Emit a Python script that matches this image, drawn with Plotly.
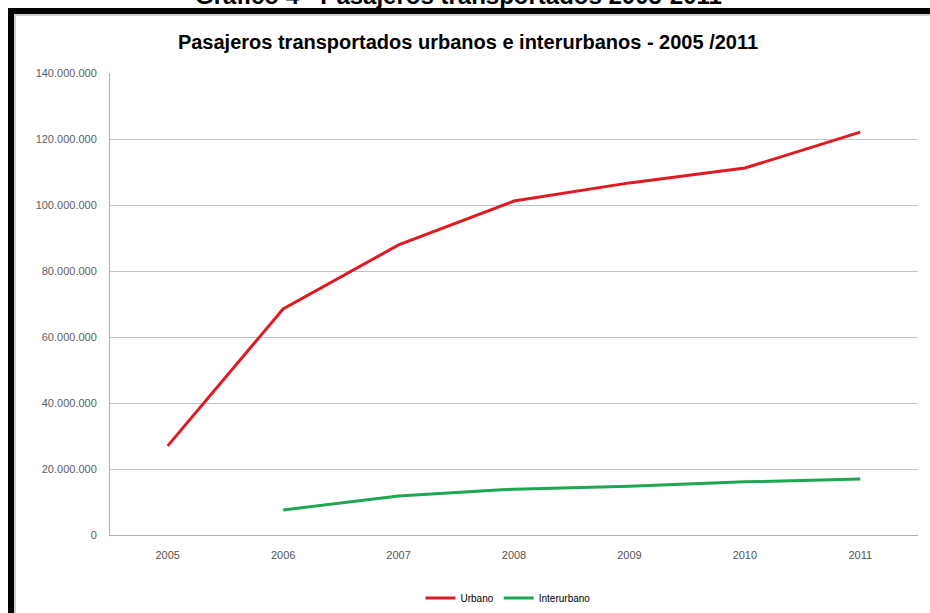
import plotly.graph_objects as go

years = ["2005", "2006", "2007", "2008", "2009", "2010", "2011"]
urbano = [27.0e6, 68.5e6, 87.9e6, 101.2e6, 106.7e6, 111.2e6, 122.1e6]
interurbano = [None, 7.6e6, 11.8e6, 13.9e6, 14.8e6, 16.1e6, 17.0e6]
y_ticks = [0, 20e6, 40e6, 60e6, 80e6, 100e6, 120e6, 140e6]

W, H = 930, 613
L, R, T, B = 110, 12, 73, 78
PW, PH = W - L - R, H - T - B

def px(x):
    return (x - L) / PW

def py(y):
    return 1 - (y - T) / PH

fig = go.Figure()
fig.add_trace(go.Scatter(x=years, y=urbano, name="Urbano", mode="lines",
                         line=dict(color="#de1a22", width=3)))
fig.add_trace(go.Scatter(x=years, y=interurbano, name="Interurbano", mode="lines",
                         line=dict(color="#1fa650", width=3)))

shapes = [
    dict(type="rect", xref="paper", yref="paper", x0=px(8), x1=px(931), y0=py(14), y1=py(8),
         fillcolor="black", line=dict(width=0), layer="above"),
    dict(type="rect", xref="paper", yref="paper", x0=px(8), x1=px(14), y0=py(614), y1=py(8),
         fillcolor="black", line=dict(width=0), layer="above"),
    dict(type="rect", xref="paper", yref="paper", x0=px(14), x1=px(931), y0=py(16), y1=py(14),
         fillcolor="#cfcfcf", line=dict(width=0), layer="above"),
    dict(type="rect", xref="paper", yref="paper", x0=px(14), x1=px(16), y0=py(614), y1=py(14),
         fillcolor="#cfcfcf", line=dict(width=0), layer="above"),
]

fig.update_layout(
    width=W, height=H,
    margin=dict(l=L, r=R, t=T, b=B, autoexpand=False),
    paper_bgcolor="white", plot_bgcolor="white",
    separators=",.",
    title=dict(text="<b>Pasajeros transportados urbanos e interurbanos - 2005 /2011</b>",
               x=468 / W, xanchor="center", y=1 - 42 / H, yanchor="middle",
               font=dict(family="Liberation Sans Narrow, Liberation Sans, Arial", size=20, color="black")),
    xaxis=dict(type="category", range=[-0.5, 6.5], showgrid=False, showline=True,
               linecolor="#b0b0b0", linewidth=1, ticks="",
               tickfont=dict(family="Liberation Sans Narrow, Liberation Sans, Arial", size=11, color="#555555"),
               ticklabelstandoff=10, fixedrange=True),
    yaxis=dict(range=[0, 140e6], tickvals=y_ticks, tickformat=",d", showgrid=True,
               gridcolor="#c4c4c4", gridwidth=1, showline=True, linecolor="#b0b0b0", linewidth=1,
               zeroline=False, ticks="",
               tickfont=dict(family="Liberation Sans, Arial", size=11, color="#606060"),
               ticklabelstandoff=10),
    legend=dict(orientation="h", x=px(508), xanchor="center", y=py(598), yanchor="middle",
                font=dict(family="Liberation Sans Narrow, Liberation Sans, Arial", size=10, color="black"),
                itemwidth=30, bgcolor="rgba(0,0,0,0)"),
    shapes=shapes,
    showlegend=True,
)

fig.add_annotation(text="<b>Gráfico 4 - Pasajeros transportados 2005-2011</b>",
                   xref="paper", yref="paper", x=px(458), y=py(-4), xanchor="center", yanchor="middle",
                   showarrow=False,
                   font=dict(family="Liberation Sans, Arial", size=24, color="black"))

fig.write_html("out.html", config={"displayModeBar": False},
               post_script="document.body.style.margin='0';")
